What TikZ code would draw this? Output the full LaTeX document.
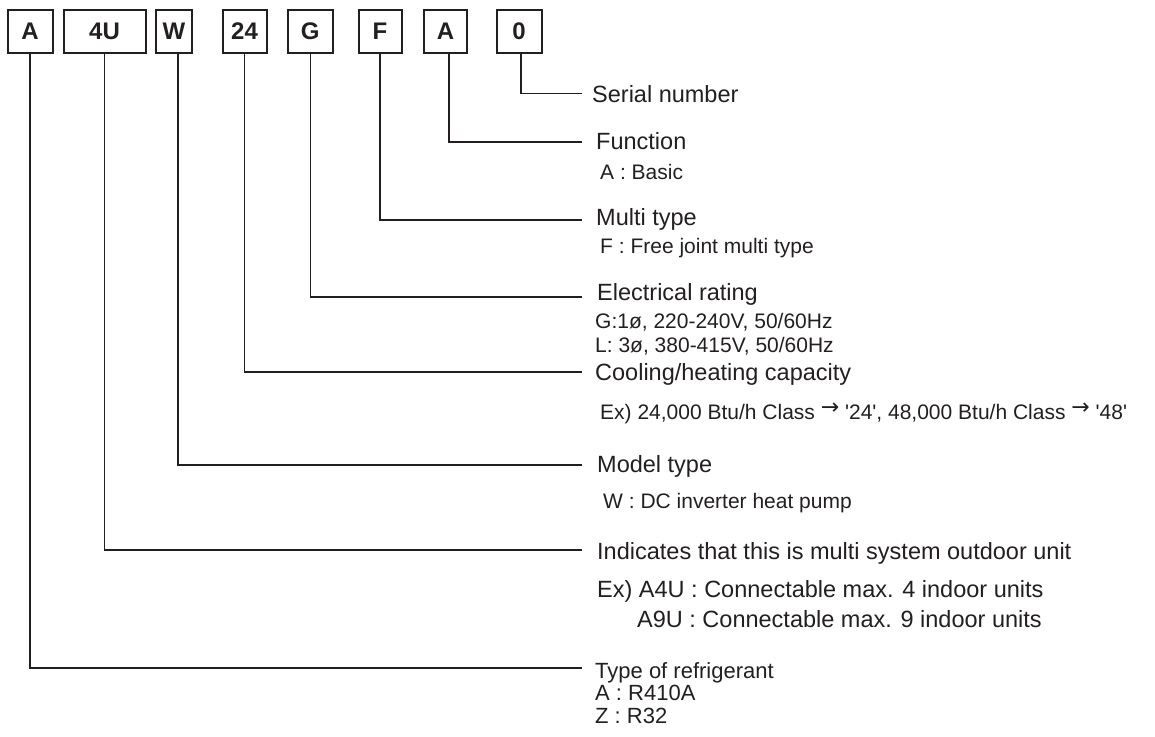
\documentclass[tikz,border=0pt]{standalone}
\usepackage{fontspec}
\setmainfont{Liberation Sans}
\newfontfamily\arrowfont{DejaVu Sans}
\usetikzlibrary{calc}
\definecolor{ink}{HTML}{231F20}
\newcommand{\smallarrow}{\raisebox{4.5pt}{\arrowfont\fontsize{22}{22}\selectfont\char"2192}}
\begin{document}
\begin{tikzpicture}[x=1pt,y=-1pt,
  codebox/.style={draw=ink, line width=2pt, minimum height=43pt, inner sep=0pt,
    font=\fontsize{24}{24}\selectfont\bfseries, text=ink},
  leader/.style={draw=ink, line width=1.3pt},
  mainlabel/.style={anchor=base west, inner sep=0pt, font=\fontsize{23.5}{28}\selectfont, text=ink},
  sublabel/.style={anchor=base west, inner sep=0pt, font=\fontsize{21}{25}\selectfont, text=ink},
  reflabel/.style={anchor=base west, inner sep=0pt, font=\fontsize{22}{26}\selectfont, text=ink},
]
\useasboundingbox (0,0) rectangle (1155,736);

% model code boxes
\node[codebox, minimum width=45pt] (b1) at (30,31) {A};
\node[codebox, minimum width=82pt] (b2) at (104.5,31) {4U};
\node[codebox, minimum width=36pt] (b3) at (174,31) {W};
\node[codebox, minimum width=44pt] (b4) at (244.5,31) {24};
\node[codebox, minimum width=44.5pt] (b5) at (310.3,31) {G};
\node[codebox, minimum width=43pt] (b6) at (380,31) {F};
\node[codebox, minimum width=43pt] (b7) at (445.5,31) {A};
\node[codebox, minimum width=45pt] (b8) at (519,31) {0};

% leader line end points
\coordinate (e8) at (582,93.5);
\coordinate (e7) at (582,142);
\coordinate (e6) at (582,220);
\coordinate (e5) at (582,297);
\coordinate (e4) at (582,372);
\coordinate (e3) at (582,465);
\coordinate (e2) at (582,550);
\coordinate (e1) at (582,668);

\draw[leader] ([xshift=2pt]b8.south) |- (e8);
\draw[leader] ([xshift=3.5pt]b7.south) |- (e7);
\draw[leader] (b6.south) |- (e6);
\draw[leader] (b5.south) |- (e5);
\draw[leader] (b4.south) |- (e4);
\draw[leader] ([xshift=4pt]b3.south) |- (e3);
\draw[leader] (b2.south) |- (e2);
\draw[leader] (b1.south) |- (e1);

% descriptions
\node[mainlabel] (t8) at (592,102.7) {Serial number};

\node[mainlabel] (t7) at (596,149.3) {Function};
\node[sublabel] (s7) at (600,179) {A : Basic};

\node[mainlabel] (t6) at (596,225) {Multi type};
\node[sublabel] (s6) at (600,253) {F : Free joint multi type};

\node[mainlabel] (t5) at (597,300.5) {Electrical rating};
\node[sublabel] (s5a) at (595,328) {G:1ø, 220-240V, 50/60Hz};
\node[sublabel] (s5b) at (595,352) {L: 3ø, 380-415V, 50/60Hz};

\node[mainlabel] (t4) at (595,380) {Cooling/heating capacity};
\node[sublabel] (s4) at (600,419) {Ex) 24,000 Btu/h Class \smallarrow{} \textquotesingle24\textquotesingle, 48,000 Btu/h Class \smallarrow{} \textquotesingle48\textquotesingle};

\node[mainlabel] (t3) at (597,472) {Model type};
\node[sublabel] (s3) at (603,508) {W : DC inverter heat pump};

\node[mainlabel] (t2) at (597,559) {Indicates that this is multi system outdoor unit};
\node[mainlabel] (s2a) at (597,597) {Ex) A4U : Connectable max. 4 indoor units};
\node[mainlabel] (s2b) at (637,627) {A9U : Connectable max. 9 indoor units};

\node[reflabel] (t1) at (595,678) {Type of refrigerant};
\node[reflabel] (s1a) at (595,700) {A : R410A};
\node[reflabel] (s1b) at (595,723) {Z : R32};
\end{tikzpicture}
\end{document}
